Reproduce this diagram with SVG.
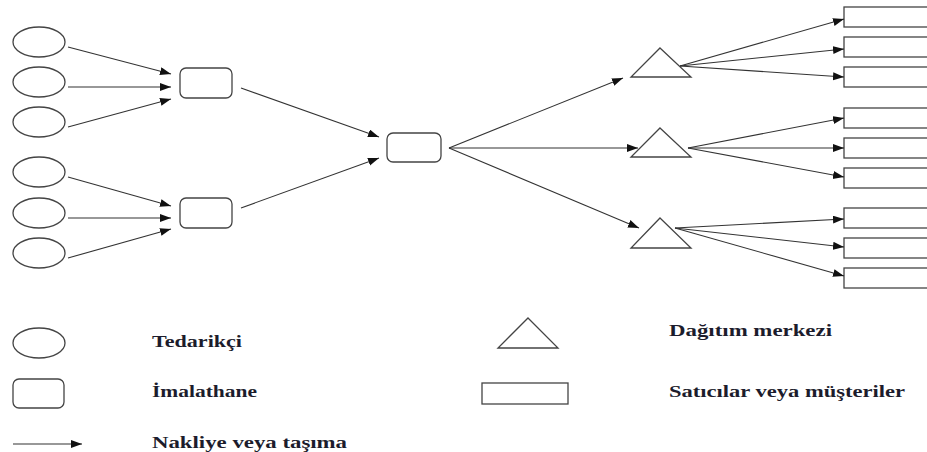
<svg xmlns="http://www.w3.org/2000/svg" width="927" height="452" viewBox="0 0 927 452">
<style>
.sh{fill:#fff;stroke:#444;stroke-width:1.3}
.ln{stroke:#333;stroke-width:1.1;fill:none}
</style>
<defs>
<marker id="ah" markerUnits="userSpaceOnUse" markerWidth="12" markerHeight="9" refX="11" refY="4" orient="auto">
<path d="M0,0 L11,4 L0,8 z" fill="#111"/>
</marker>
</defs>
<rect width="927" height="452" fill="#fff"/>
<g id="suppliers">
<ellipse id="s1" class="sh" cx="39" cy="42" rx="26" ry="15"/>
<ellipse id="s2" class="sh" cx="39" cy="82" rx="26" ry="15"/>
<ellipse id="s3" class="sh" cx="39" cy="122" rx="26" ry="15"/>
<ellipse id="s4" class="sh" cx="39" cy="172" rx="26" ry="15"/>
<ellipse id="s5" class="sh" cx="39" cy="213" rx="26" ry="15"/>
<ellipse id="s6" class="sh" cx="39" cy="253" rx="26" ry="15"/>
</g>
<g id="plants">
<rect id="m1" class="sh" x="180" y="68" width="52" height="30" rx="6"/>
<rect id="m2" class="sh" x="180" y="198" width="52" height="30" rx="6"/>
<rect id="m3" class="sh" x="387" y="133" width="54" height="29" rx="6"/>
</g>
<g id="dcs">
<polygon id="d1" class="sh" points="660,48 691,77 631,77"/>
<polygon id="d2" class="sh" points="660,128 691,157 631,157"/>
<polygon id="d3" class="sh" points="660,218 691,248 631,248"/>
</g>
<g id="customers">
<rect id="c1" class="sh" x="844" y="7" width="90" height="20"/>
<rect id="c2" class="sh" x="844" y="37" width="90" height="20"/>
<rect id="c3" class="sh" x="844" y="67" width="90" height="20"/>
<rect id="c4" class="sh" x="844" y="108" width="90" height="20"/>
<rect id="c5" class="sh" x="844" y="138" width="90" height="20"/>
<rect id="c6" class="sh" x="844" y="168" width="90" height="20"/>
<rect id="c7" class="sh" x="844" y="208" width="90" height="20"/>
<rect id="c8" class="sh" x="844" y="238" width="90" height="20"/>
<rect id="c9" class="sh" x="844" y="268" width="90" height="20"/>
</g>
<g id="connectors" class="ln">
<line x1="68" y1="47" x2="171" y2="74" marker-end="url(#ah)"/>
<line x1="68" y1="87" x2="171" y2="87" marker-end="url(#ah)"/>
<line x1="68" y1="127" x2="171" y2="99" marker-end="url(#ah)"/>
<line x1="68" y1="177" x2="171" y2="206" marker-end="url(#ah)"/>
<line x1="68" y1="218" x2="171" y2="218" marker-end="url(#ah)"/>
<line x1="68" y1="258" x2="171" y2="229" marker-end="url(#ah)"/>
<line x1="241" y1="88" x2="379" y2="137" marker-end="url(#ah)"/>
<line x1="241" y1="208" x2="379" y2="158" marker-end="url(#ah)"/>
<line x1="449" y1="148" x2="623" y2="78" marker-end="url(#ah)"/>
<line x1="449" y1="148" x2="638" y2="148" marker-end="url(#ah)"/>
<line x1="449" y1="148" x2="639" y2="228" marker-end="url(#ah)"/>
<line x1="680" y1="66" x2="844" y2="19" marker-end="url(#ah)"/>
<line x1="680" y1="66" x2="844" y2="49" marker-end="url(#ah)"/>
<line x1="680" y1="66" x2="844" y2="77" marker-end="url(#ah)"/>
<line x1="688" y1="148" x2="844" y2="118" marker-end="url(#ah)"/>
<line x1="688" y1="148" x2="844" y2="148" marker-end="url(#ah)"/>
<line x1="688" y1="148" x2="844" y2="177" marker-end="url(#ah)"/>
<line x1="675" y1="228" x2="844" y2="219" marker-end="url(#ah)"/>
<line x1="675" y1="228" x2="844" y2="247" marker-end="url(#ah)"/>
<line x1="675" y1="228" x2="844" y2="276" marker-end="url(#ah)"/>
</g>
<g id="legend">
<ellipse class="sh" cx="39" cy="343" rx="26" ry="15"/>
<rect class="sh" x="13" y="379" width="51" height="29" rx="6"/>
<line class="ln" x1="13" y1="444" x2="82" y2="444" marker-end="url(#ah)"/>
<polygon class="sh" points="528,318 558,348 498,348"/>
<rect class="sh" x="482" y="383" width="86" height="21"/>
<g font-family="Liberation Serif, Times New Roman, serif" font-size="16" font-weight="bold" fill="#1c1c2c">
<text x="152" y="347" textLength="90" lengthAdjust="spacingAndGlyphs">Tedarikçi</text>
<text x="152" y="397" textLength="105" lengthAdjust="spacingAndGlyphs">İmalathane</text>
<text x="152" y="448" textLength="195" lengthAdjust="spacingAndGlyphs">Nakliye veya taşıma</text>
<text x="669" y="336" textLength="163" lengthAdjust="spacingAndGlyphs">Dağıtım merkezi</text>
<text x="669" y="397" textLength="236" lengthAdjust="spacingAndGlyphs">Satıcılar veya müşteriler</text>
</g>
</g>
</svg>
